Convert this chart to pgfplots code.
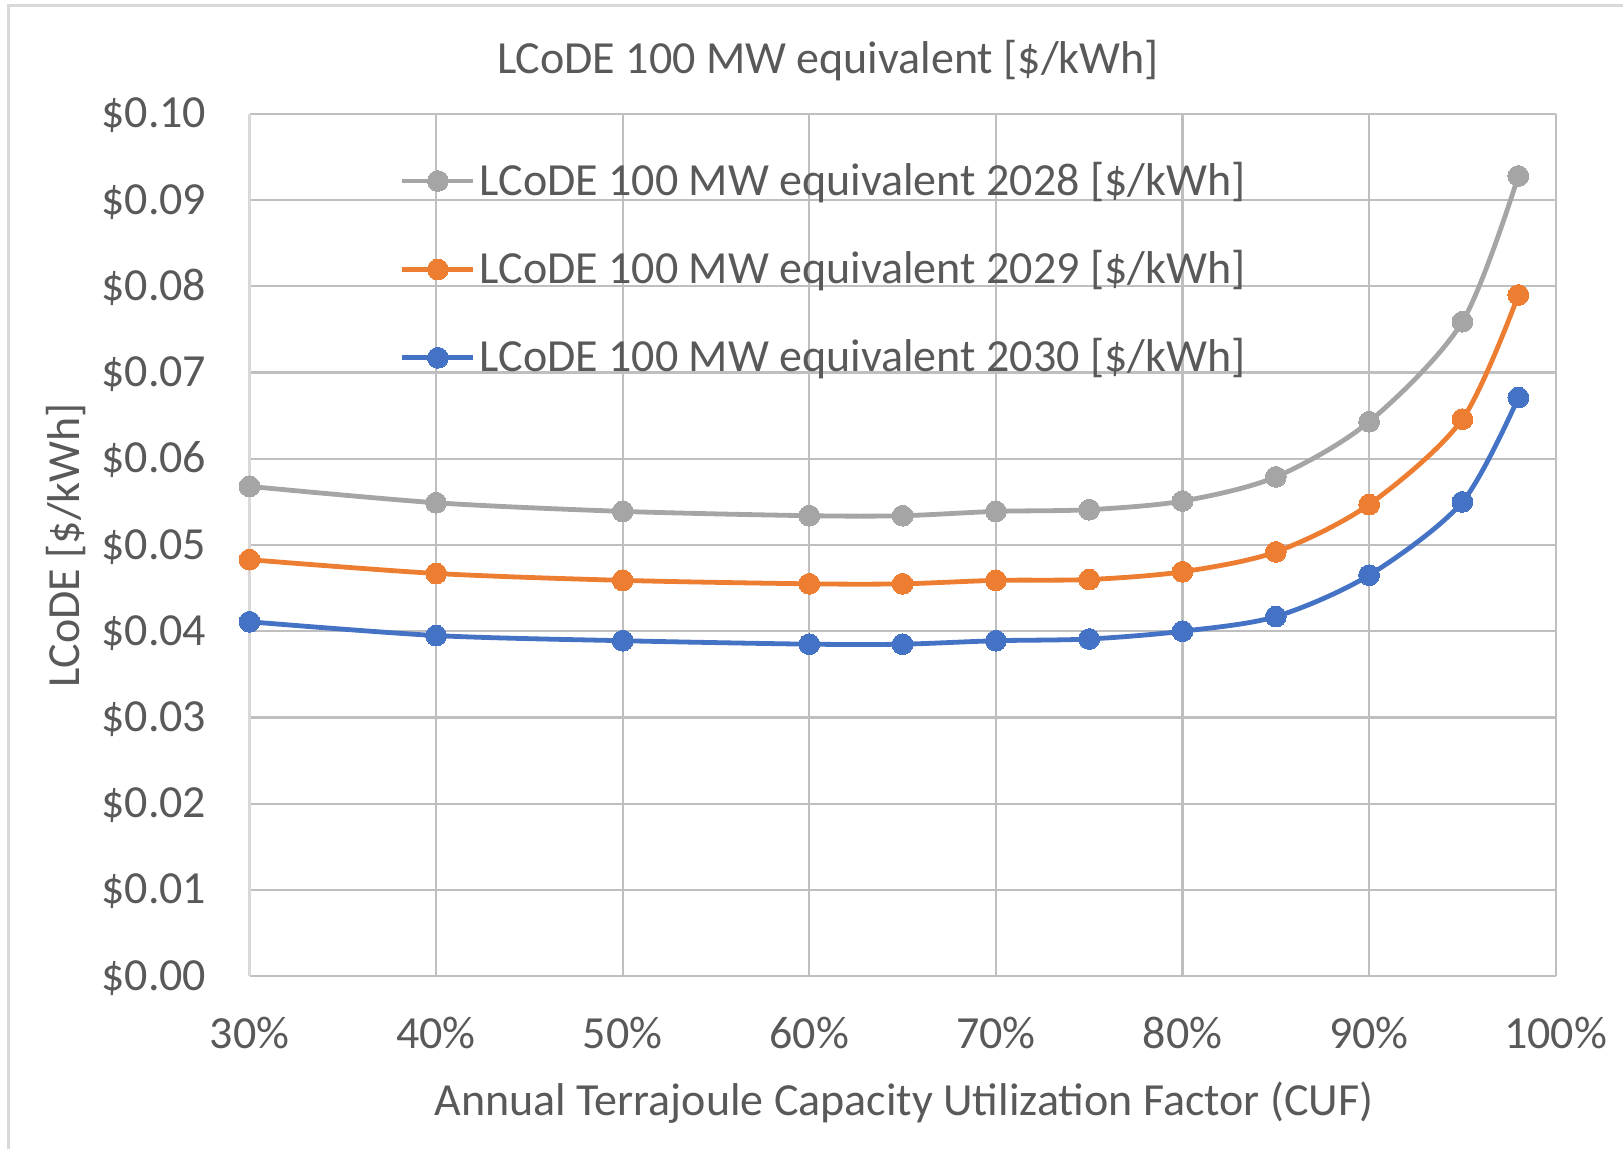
\documentclass[border=0pt]{standalone}
\usepackage{pgfplots}
\usepackage{pgfplotstable}
\pgfplotsset{compat=1.18}
\usepackage{fontspec}
\setmainfont{Carlito}

\definecolor{txt}{HTML}{595959}
\definecolor{grid}{HTML}{D9D9D9}
\definecolor{base}{HTML}{BFBFBF}
\definecolor{s28}{HTML}{A5A5A5}
\definecolor{s29}{HTML}{ED7D31}
\definecolor{s30}{HTML}{4472C4}

\newcommand{\chartfont}{\fontsize{11.5pt}{14pt}\selectfont}

% CUF [%] vs LCoDE [$/kWh]
\pgfplotstableread{
x   y28     y29     y30
30  0.0568  0.0483  0.0411
40  0.0549  0.0467  0.0395
50  0.0539  0.0459  0.0389
60  0.0534  0.0455  0.0385
65  0.0534  0.0455  0.0385
70  0.0539  0.0459  0.0389
75  0.0541  0.0460  0.0391
80  0.0551  0.0469  0.0400
85  0.0579  0.0492  0.0417
90  0.0643  0.0547  0.0465
95  0.0759  0.0646  0.0550
98  0.0928  0.0790  0.0671
}\lcode

\begin{document}
\begin{tikzpicture}
\useasboundingbox (0pt,0pt) rectangle (405.75pt,287.25pt);
\draw[grid, line width=0.75pt] (2pt,0pt) -- (2pt,285.75pt) -- (405.75pt,285.75pt);

\begin{axis}[
    at={(62.375pt,43.225pt)}, anchor=south west,
    scale only axis, width=326.55pt, height=215.55pt,
    xmin=30, xmax=100, ymin=0, ymax=0.1,
    xtick={30,40,50,60,70,80,90,100},
    xticklabels={30\%,40\%,50\%,60\%,70\%,80\%,90\%,100\%},
    ytick={0,0.01,0.02,0.03,0.04,0.05,0.06,0.07,0.08,0.09,0.1},
    yticklabels={\$0.00,\$0.01,\$0.02,\$0.03,\$0.04,\$0.05,\$0.06,\$0.07,\$0.08,\$0.09,\$0.10},
    major tick length=0pt,
    grid=major,
    major grid style={grid, line width=0.55pt},
    axis lines*=left,
    x axis line style={base, line width=0.6pt, -},
    y axis line style={grid, line width=0.55pt, -},
    tick label style={font=\chartfont, text=txt, inner sep=0pt},
    yticklabel style={anchor=base east, xshift=-10.6pt, yshift=-3.5pt},
    xticklabel style={anchor=base, yshift=-18pt},
    title={LCoDE 100 MW equivalent [\$/kWh]},
    title style={at={(axis description cs:0.4429,1.0185)}, anchor=base,
        font=\chartfont, text=txt, inner sep=0pt},
    xlabel={Annual Terrajoule Capacity Utilization Factor (CUF)},
    xlabel style={at={(axis description cs:0.501,-0.1611)}, anchor=base,
        font=\chartfont, text=txt, inner sep=0pt},
    ylabel={LCoDE [\$/kWh]},
    ylabel style={at={(axis description cs:-0.1305,0.5)}, anchor=base,
        rotate=0, font=\chartfont, text=txt, inner sep=0pt},
    legend cell align=left,
    legend style={at={(axis description cs:0.1152,0.9477)}, anchor=north west,
        draw=none, fill=none, inner sep=0pt, outer sep=0pt,
        row sep=11.1pt, column sep=1pt,
        font=\chartfont, text=txt,
        nodes={inner sep=0pt, text height=9pt, text depth=2pt}},
    legend image code/.code={
        \draw[mark repeat=2, mark phase=2]
            plot coordinates {(0pt,0pt) (8.875pt,0pt) (17.75pt,0pt)};},
    every axis plot/.append style={smooth, line width=1.2pt,
        mark=*, mark size=2.6pt},
]
\addplot[s28, mark options={fill=s28, draw=s28, line width=0pt}] table[x=x, y=y28] {\lcode};
\addlegendentry{LCoDE 100 MW equivalent 2028 [\$/kWh]}
\addplot[s29, mark options={fill=s29, draw=s29, line width=0pt}] table[x=x, y=y29] {\lcode};
\addlegendentry{LCoDE 100 MW equivalent 2029 [\$/kWh]}
\addplot[s30, mark options={fill=s30, draw=s30, line width=0pt}] table[x=x, y=y30] {\lcode};
\addlegendentry{LCoDE 100 MW equivalent 2030 [\$/kWh]}
\end{axis}
\end{tikzpicture}
\end{document}
